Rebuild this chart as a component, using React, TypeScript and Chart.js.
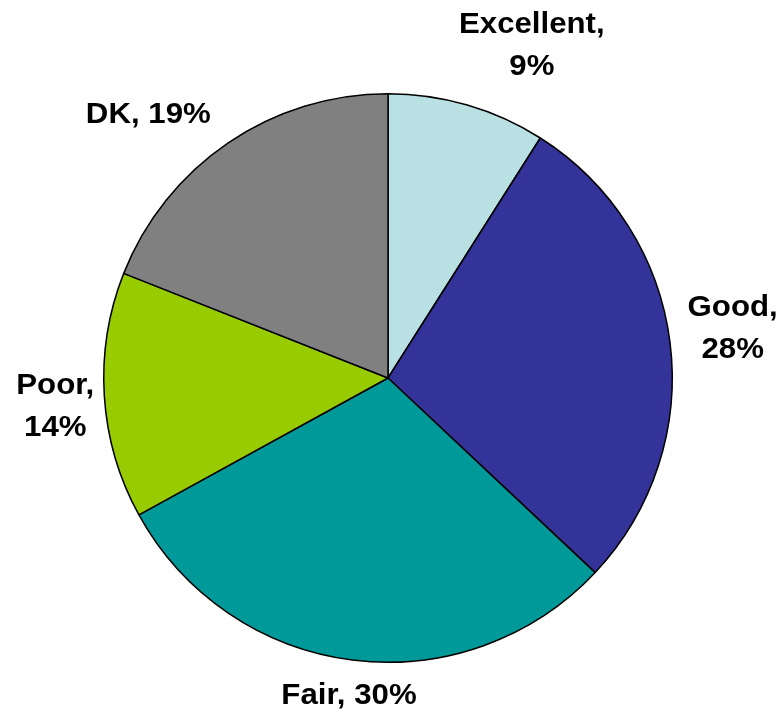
import React, { useEffect, useRef } from "react";
import { Chart, registerables } from "chart.js";

Chart.register(...registerables);

const categories = ["Excellent", "Good", "Fair", "Poor", "DK"];
const values = [9, 28, 30, 14, 19];
const labelLines = [["Excellent,", "9%"], ["Good,", "28%"], ["Fair, 30%"], ["Poor,", "14%"], ["DK, 19%"]];
const colors = ["#B9E0E3", "#333399", "#009999", "#99CC00", "#808080"];

// label placement: angle from top (deg, clockwise) and distance as fraction of radius
const labelAngles = [23.4, 81.8, 187, 265, 317.7];
const labelDist = [1.274, 1.225, 1.126, 1.175, 1.253];

const labelPlugin = {
  id: "outerLabels",
  afterDraw(chart: any) {
    const ctx = chart.ctx;
    const meta = chart.getDatasetMeta(0);
    ctx.save();
    ctx.font = "bold 30px 'Liberation Sans', Arial, sans-serif";
    ctx.fillStyle = "#000";
    ctx.textAlign = "center";
    ctx.textBaseline = "middle";
    const lineH = 42;
    meta.data.forEach((arc: any, i: number) => {
      const p = arc.getProps(["x", "y", "outerRadius"], true);
      const a = (labelAngles[i] * Math.PI) / 180;
      const d = p.outerRadius * labelDist[i];
      const cx = p.x + Math.sin(a) * d;
      const cy = p.y - Math.cos(a) * d;
      const lines = labelLines[i];
      const start = cy - ((lines.length - 1) * lineH) / 2;
      lines.forEach((t, j) => {
        ctx.save();
        ctx.translate(cx, start + j * lineH);
        ctx.scale(1.04, 1);
        ctx.fillText(t, 0, 0);
        ctx.restore();
      });
    });
    ctx.restore();
  },
};

export default function App() {
  const ref = useRef<HTMLCanvasElement>(null);
  useEffect(() => {
    document.body.style.margin = "0";
    const chart = new Chart(ref.current as HTMLCanvasElement, {
      type: "pie",
      data: {
        labels: categories,
        datasets: [
          {
            data: values,
            backgroundColor: colors,
            borderColor: "#000",
            borderWidth: 1.5,
          },
        ],
      },
      options: {
        responsive: false,
        animation: false,
        layout: { padding: { left: 103, right: 108, top: 93, bottom: 52 } },
        plugins: { legend: { display: false }, tooltip: { enabled: false } },
      },
      plugins: [labelPlugin],
    });
    return () => chart.destroy();
  }, []);
  return <canvas ref={ref} width={781} height={715} style={{ display: "block" }} />;
}
